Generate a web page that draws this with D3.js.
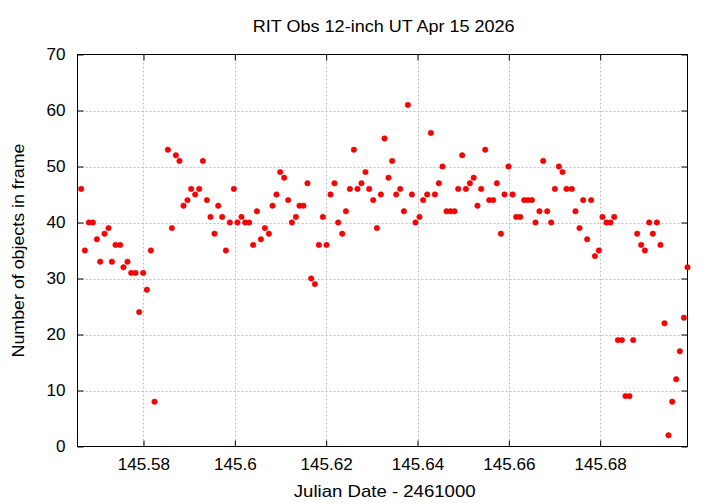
<!DOCTYPE html>
<html>
<head>
<meta charset="utf-8">
<script src="https://cdn.jsdelivr.net/npm/d3@7"></script>
<style>
  html, body { margin: 0; padding: 0; background: #fff; }
  svg { display: block; }
  text { font-family: "Liberation Sans", Arial, Helvetica, sans-serif; fill: #000; }
</style>
</head>
<body>
<svg id="chart" width="720" height="504"></svg>
<script>
const titleText = "RIT Obs 12-inch UT Apr 15 2026";
const xLabel = "Julian Date - 2461000";
const yLabel = "Number of objects in frame";
const xTicks = [145.58, 145.60, 145.62, 145.64, 145.66, 145.68];
const xTickLabels = ["145.58", "145.6", "145.62", "145.64", "145.66", "145.68"];
const yTicks = [0, 10, 20, 30, 40, 50, 60, 70];
const xDomain = [145.56555, 145.69912];
const yDomain = [0, 70];

const jd = [
  145.56636, 145.56717, 145.56804, 145.56892, 145.56980, 145.57052, 145.57146, 145.57234,
  145.57308, 145.57387, 145.57490, 145.57562, 145.57650, 145.57731, 145.57825, 145.57906,
  145.57993, 145.58074, 145.58162, 145.58241, 145.58534, 145.58622, 145.58709, 145.58788,
  145.58876, 145.58963, 145.59044, 145.59132, 145.59220, 145.59301, 145.59388, 145.59467,
  145.59555, 145.59636, 145.59723, 145.59804, 145.59892, 145.59979, 145.60058, 145.60146,
  145.60227, 145.60314, 145.60402, 145.60483, 145.60571, 145.60658, 145.60746, 145.60825,
  145.60912, 145.60993, 145.61081, 145.61168, 145.61249, 145.61337, 145.61416, 145.61503,
  145.61591, 145.61672, 145.61753, 145.61841, 145.61928, 145.62007, 145.62095, 145.62182,
  145.62263, 145.62351, 145.62432, 145.62519, 145.62607, 145.62686, 145.62773, 145.62861,
  145.62942, 145.63030, 145.63111, 145.63198, 145.63277, 145.63365, 145.63446, 145.63533,
  145.63621, 145.63702, 145.63789, 145.63877, 145.63956, 145.64043, 145.64124, 145.64212,
  145.64293, 145.64381, 145.64468, 145.64547, 145.64635, 145.64722, 145.64810, 145.64891,
  145.64978, 145.65059, 145.65147, 145.65230, 145.65313, 145.65394, 145.65482, 145.65570,
  145.65657, 145.65738, 145.65826, 145.65905, 145.65992, 145.66080, 145.66161, 145.66248,
  145.66336, 145.66417, 145.66505, 145.66583, 145.66671, 145.66752, 145.66840, 145.66927,
  145.67008, 145.67096, 145.67175, 145.67262, 145.67380, 145.67459, 145.67547, 145.67628,
  145.67715, 145.67803, 145.67884, 145.67972, 145.68050, 145.68138, 145.68226, 145.68307,
  145.68388, 145.68475, 145.68554, 145.68642, 145.68723, 145.68810, 145.68898, 145.68979,
  145.69073, 145.69154, 145.69242, 145.69320, 145.69408, 145.69496, 145.69577, 145.69664,
  145.69745, 145.69833, 145.69912
];
const counts = [
  46, 35, 40, 40, 37, 33, 38, 39,
  33, 36, 36, 32, 33, 31, 31, 24,
  31, 28, 35, 8, 53, 39, 52, 51,
  43, 44, 46, 45, 46, 51, 44, 41,
  38, 43, 41, 35, 40, 46, 40, 41,
  40, 40, 36, 42, 37, 39, 38, 43,
  45, 49, 48, 44, 40, 41, 43, 43,
  47, 30, 29, 36, 41, 36, 45, 47,
  40, 38, 42, 46, 53, 46, 47, 49,
  46, 44, 39, 45, 55, 48, 51, 45,
  46, 42, 61, 45, 40, 41, 44, 45,
  56, 45, 47, 50, 42, 42, 42, 46,
  52, 46, 47, 48, 43, 46, 53, 44,
  44, 47, 38, 45, 50, 45, 41, 41,
  44, 44, 44, 40, 42, 51, 42, 40,
  46, 50, 49, 46, 46, 42, 39, 44,
  37, 44, 34, 35, 41, 40, 40, 41,
  19, 19, 9, 9, 19, 38, 36, 35,
  40, 38, 40, 36, 22, 2, 8, 12,
  17, 23, 32
];

const svg = d3.select("#chart");
const L = 77.5, R = 687.5, T = 54.5, B = 446.5;
const sx = 1.07; // horizontal glyph stretch to match reference text widths

const x = d3.scaleLinear().domain(xDomain).range([L, R]);
const y = d3.scaleLinear().domain(yDomain).range([B, T]);

// grid
const grid = svg.append("g");
grid.selectAll("line.gx").data(xTicks).enter().append("line")
  .attr("x1", d => Math.round(x(d)) + 0.5).attr("x2", d => Math.round(x(d)) + 0.5)
  .attr("y1", T).attr("y2", B)
  .attr("stroke", "#c0c0c0").attr("stroke-width", 1).attr("stroke-dasharray", "2,2");
grid.selectAll("line.gy").data(yTicks.filter(d => d > 0 && d < 70)).enter().append("line")
  .attr("y1", d => Math.round(y(d)) + 0.5).attr("y2", d => Math.round(y(d)) + 0.5)
  .attr("x1", L).attr("x2", R)
  .attr("stroke", "#c0c0c0").attr("stroke-width", 1).attr("stroke-dasharray", "2,2");

// axes (ticks inward, mirrored)
const tl = 6;
const xAxisB = d3.axisBottom(x).tickValues(xTicks).tickFormat((d, i) => xTickLabels[i]).tickSizeInner(-tl).tickSizeOuter(0).tickPadding(12);
const xAxisT = d3.axisTop(x).tickValues(xTicks).tickFormat("").tickSizeInner(-tl).tickSizeOuter(0);
const yAxisL = d3.axisLeft(y).tickValues(yTicks).tickSizeInner(-tl).tickSizeOuter(0).tickPadding(12);
const yAxisR = d3.axisRight(y).tickValues(yTicks).tickFormat("").tickSizeInner(-tl).tickSizeOuter(0);

function styleAxis(g) {
  g.select(".domain").remove();
  g.selectAll(".tick line").attr("stroke", "#000");
  g.selectAll("text").attr("font-size", 16).attr("font-family", "Liberation Sans, Arial, sans-serif")
    .attr("fill", "#000");
}
svg.append("g").attr("transform", `translate(0,${B})`).call(xAxisB).call(styleAxis)
  .selectAll(".tick text").attr("transform", `scale(${sx},1)`);
svg.append("g").attr("transform", `translate(0,${T})`).call(xAxisT).call(styleAxis);
svg.append("g").attr("transform", `translate(${L},0)`).call(yAxisL).call(styleAxis)
  .selectAll(".tick text").attr("x", -12 / sx).attr("transform", `scale(${sx},1)`);
svg.append("g").attr("transform", `translate(${R},0)`).call(yAxisR).call(styleAxis);

// border
svg.append("rect").attr("x", L).attr("y", T).attr("width", R - L).attr("height", B - T)
  .attr("fill", "none").attr("stroke", "#000").attr("stroke-width", 1);

// points
svg.append("g").selectAll("circle").data(jd.map((d, i) => [d, counts[i]])).enter().append("circle")
  .attr("cx", d => x(d[0])).attr("cy", d => y(d[1])).attr("r", 2.7)
  .attr("fill", "#ff0000").attr("stroke", "#e00000").attr("stroke-width", 0.6);

// titles, stretched horizontally to the reference widths
function stretchedLabel(txt, cx, cy, targetW, rotate) {
  const g = svg.append("g").attr("transform", `translate(${cx},${cy})` + (rotate ? " rotate(-90)" : ""));
  const t = g.append("text").attr("text-anchor", "middle").attr("font-size", 16).text(txt);
  const w = t.node().getComputedTextLength();
  t.attr("transform", `scale(${targetW / w},1)`);
  return t;
}
stretchedLabel(titleText, 383.7, 32, 262, false);
stretchedLabel(xLabel, 384.7, 497, 182, false);
stretchedLabel(yLabel, 24, 250.5, 214, true);
</script>
</body>
</html>
